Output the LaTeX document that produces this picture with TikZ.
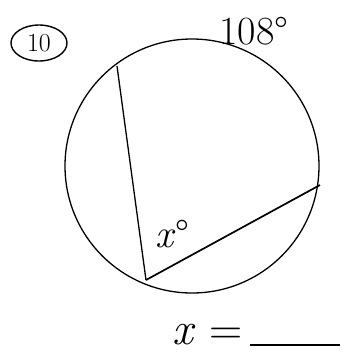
\documentclass[tikz,border=0pt]{standalone}
\usepackage{fontspec}
\usetikzlibrary{positioning}

\begin{document}
\begin{tikzpicture}[
    x=1pt, y=-1pt,
    rim/.style={draw, line width=1.3pt},
    chord/.style={draw, line width=1.3pt},
    label/.style={inner sep=0pt, font=\fontsize{40}{40}\selectfont}
]
\useasboundingbox (0,0) rectangle (344,360);

% circle and its chords
\coordinate (O) at (192,166);
\draw[rim] (O) circle [radius=127];
\coordinate (top) at (117,66);
\coordinate (vertex) at (146,280);
\coordinate (right) at (320,185);
\draw[chord] (top) -- (vertex);
\draw[chord, line width=1.7pt] (vertex) -- (right);

% labels
\node[label, font=\fontsize{26}{26}\selectfont] (num) at (39,43) {10};
\draw[line width=1.4pt] (num) ellipse [x radius=28, y radius=18];
\node[label] (arc) at (254,31) {108°};
\node[label] (ang) at (172,234) {\textit{x}°};
\node[label, font=\fontsize{46}{46}\selectfont] (ans) at (208,335) {\textit{x} =};
\coordinate (blankA) at (250,345);
\coordinate (blankB) at (340,345);
\draw[line width=1.6pt] (blankA) -- (blankB);
\end{tikzpicture}
\end{document}
